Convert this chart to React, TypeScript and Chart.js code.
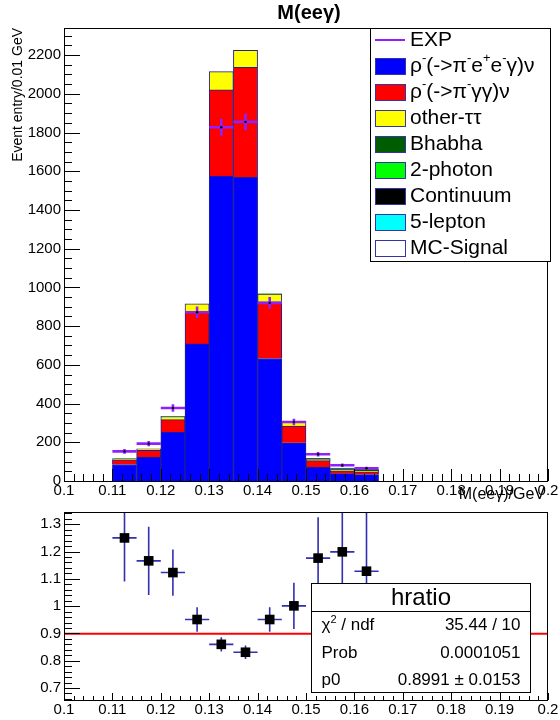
import React, { useEffect, useRef } from "react";
import { Chart, registerables } from "chart.js";

Chart.register(...registerables);

const FONT = '"Liberation Sans", Arial, Helvetica, sans-serif';

// ---------------- data ----------------
const binCenters = [0.1125, 0.1175, 0.1225, 0.1275, 0.1325, 0.1375, 0.1425, 0.1475, 0.1525, 0.1575, 0.1625];
const binHalfWidth = 0.0025;

const rhoEEG = [85, 124, 253, 708, 1575, 1569, 633, 197, 72, 38, 33];
const rhoGG = [25, 35, 64, 167, 445, 568, 293, 87, 33, 14, 14];
const otherTT = [5, 7, 16, 40, 95, 88, 40, 22, 9, 7, 6];
const bhabha = [0, 0, 0, 0, 0, 0, 0, 1, 2, 4, 3];
const twoPhoton = [1, 0, 1, 0, 0, 0, 1, 1, 1, 2, 2];
const continuum = [0, 0, 0, 0, 0, 0, 0, 0, 0, 2, 1];
const fiveLepton = [0, 0, 0, 0, 0, 0, 0, 0, 0, 0, 0];
const mcSignal = [0, 0, 0, 0, 0, 0, 0, 0, 0, 0, 0];

const expData = [153, 193, 377, 872, 1827, 1855, 920, 305, 138, 81, 66];
const expErr = [12, 14, 19, 30, 43, 43, 30, 17, 12, 9, 8];

const ratio = [1.25, 1.166, 1.123, 0.951, 0.86, 0.831, 0.951, 1.001, 1.176, 1.199, 1.128];
const ratioErr = [0.16, 0.125, 0.085, 0.045, 0.026, 0.025, 0.045, 0.085, 0.15, 0.2, 0.25];

const fitP0 = 0.8991;
const fitRange = [0.1, 0.2];

const seriesLabels = [
  "ρ^{-}(->π^{-}e^{+}e^{-}γ)ν",
  "ρ^{-}(->π^{-}γγ)ν",
  "other-ττ",
  "Bhabha",
  "2-photon",
  "Continuum",
  "5-lepton",
  "MC-Signal",
];
const seriesValues = [rhoEEG, rhoGG, otherTT, bhabha, twoPhoton, continuum, fiveLepton, mcSignal];
const seriesColors = ["#0000ff", "#ff0000", "#ffff00", "#005c00", "#00ff00", "#000000", "#00ffff", "#ffffff"];
const expLabel = "EXP";

const xTicks = [0.1, 0.11, 0.12, 0.13, 0.14, 0.15, 0.16, 0.17, 0.18, 0.19, 0.2];
const xTickLabels = ["0.1", "0.11", "0.12", "0.13", "0.14", "0.15", "0.16", "0.17", "0.18", "0.19", "0.2"];
const yTopTicks = [0, 200, 400, 600, 800, 1000, 1200, 1400, 1600, 1800, 2000, 2200];
const yTopLabels = ["0", "200", "400", "600", "800", "1000", "1200", "1400", "1600", "1800", "2000", "2200"];
const yBotTicks = [0.7, 0.8, 0.9, 1.0, 1.1, 1.2, 1.3];
const yBotLabels = ["0.7", "0.8", "0.9", "1", "1.1", "1.2", "1.3"];

const titleText = "M(eeγ)";
const yTitleText = "Event entry/0.01 GeV";
const xTitleText = "M(eeγ)/GeV";

const statsTitle = "hratio";
const statsLabels = ["χ^{2} / ndf", "Prob", "p0"];
const statsValues = ["35.44 / 10", "0.0001051", "0.8991 ± 0.0153"];

// ---------------- styles ----------------
const EXP_COLOR = "#9020ff";
const HIST_LINE = "#202090";
const RATIO_ERR = "#3030b0";

// ---------------- helpers ----------------
type Seg = { t: string; sup: boolean };
function parseRich(s: string): Seg[] {
  const segs: Seg[] = [];
  let i = 0;
  while (i < s.length) {
    const k = s.indexOf("^{", i);
    if (k < 0) {
      segs.push({ t: s.slice(i), sup: false });
      break;
    }
    if (k > i) segs.push({ t: s.slice(i, k), sup: false });
    const e = s.indexOf("}", k);
    segs.push({ t: s.slice(k + 2, e), sup: true });
    i = e + 1;
  }
  return segs;
}

function drawRich(ctx: CanvasRenderingContext2D, s: string, x: number, y: number, size: number, align: "left" | "right" | "center" = "left", weight = "") {
  const segs = parseRich(s);
  const fN = `${weight} ${size}px ${FONT}`;
  const fS = `${weight} ${Math.round(size * 0.62)}px ${FONT}`;
  let total = 0;
  const widths = segs.map((sg) => {
    ctx.font = sg.sup ? fS : fN;
    const w = ctx.measureText(sg.t).width;
    total += w;
    return w;
  });
  let cx = align === "left" ? x : align === "right" ? x - total : x - total / 2;
  ctx.textAlign = "left";
  ctx.textBaseline = "middle";
  segs.forEach((sg, i) => {
    ctx.font = sg.sup ? fS : fN;
    ctx.fillText(sg.t, cx, sg.sup ? y - size * 0.35 : y);
    cx += widths[i];
  });
}

function tickFrame(opts: any) {
  return {
    id: "rootFrame",
    afterDatasetsDraw(chart: any) {
      const { ctx, chartArea: a, scales } = chart;
      const xs = scales.x;
      const ys = scales.y;
      ctx.save();
      ctx.strokeStyle = "#000";
      ctx.lineWidth = 1;
      ctx.beginPath();
      const xStart = Math.ceil(xs.min / opts.xMinor - 1e-6);
      const xEnd = Math.floor(xs.max / opts.xMinor + 1e-6);
      for (let i = xStart; i <= xEnd; i++) {
        const v = i * opts.xMinor;
        const r = v / opts.xMajor;
        const major = Math.abs(r - Math.round(r)) < 1e-6;
        const px = Math.round(xs.getPixelForValue(v)) + 0.5;
        ctx.moveTo(px, a.bottom);
        ctx.lineTo(px, a.bottom - (major ? opts.xMajorLen : opts.xMinorLen));
      }
      const yStart = Math.ceil(ys.min / opts.yMinor - 1e-6);
      const yEnd = Math.floor(ys.max / opts.yMinor + 1e-6);
      for (let i = yStart; i <= yEnd; i++) {
        const v = i * opts.yMinor;
        const r = v / opts.yMajor;
        const major = Math.abs(r - Math.round(r)) < 1e-6;
        const py = Math.round(ys.getPixelForValue(v)) + 0.5;
        ctx.moveTo(a.left, py);
        ctx.lineTo(a.left + (major ? opts.yMajorLen : opts.yMinorLen), py);
      }
      ctx.stroke();
      ctx.strokeRect(Math.round(a.left) + 0.5, Math.round(a.top) + 0.5, Math.round(a.width) - 1, Math.round(a.height));
      ctx.restore();
    },
  };
}

const expErrorPlugin = {
  id: "expErrors",
  beforeDatasetDraw(chart: any, args: any) {
    if (chart.data.datasets[args.index].label !== expLabel) return;
    const { ctx, scales } = chart;
    const x = scales.x;
    const y = scales.y;
    ctx.save();
    ctx.strokeStyle = EXP_COLOR;
    ctx.lineWidth = 2.6;
    ctx.beginPath();
    binCenters.forEach((c, i) => {
      const px = x.getPixelForValue(c);
      const py = y.getPixelForValue(expData[i]);
      ctx.moveTo(x.getPixelForValue(c - binHalfWidth), py);
      ctx.lineTo(x.getPixelForValue(c + binHalfWidth), py);
      ctx.moveTo(px, y.getPixelForValue(expData[i] + expErr[i]));
      ctx.lineTo(px, y.getPixelForValue(expData[i] - expErr[i]));
    });
    ctx.stroke();
    ctx.restore();
  },
};

const topDecor = {
  id: "topDecor",
  afterDraw(chart: any) {
    const { ctx, chartArea: a } = chart;
    ctx.save();
    ctx.fillStyle = "#000";
    // title
    ctx.font = `bold 20px ${FONT}`;
    ctx.textAlign = "center";
    ctx.textBaseline = "middle";
    ctx.fillText(titleText, 309, 13);
    // y title
    ctx.save();
    ctx.translate(18, a.top);
    ctx.rotate(-Math.PI / 2);
    ctx.font = `14px ${FONT}`;
    ctx.textAlign = "right";
    ctx.textBaseline = "middle";
    ctx.fillText(yTitleText, 0, 0);
    ctx.restore();
    // x title
    ctx.font = `16px ${FONT}`;
    ctx.textAlign = "right";
    ctx.textBaseline = "alphabetic";
    ctx.fillText(xTitleText, 545, 499);

    // legend
    const lx = 370.5, ly = a.top + 0.5, lw = 180, lh = 233;
    ctx.fillStyle = "#fff";
    ctx.fillRect(lx, ly, lw, lh);
    ctx.strokeStyle = "#000";
    ctx.lineWidth = 1;
    ctx.strokeRect(lx, ly, lw, lh);
    const rowH = 26;
    const firstY = 40;
    // EXP entry
    ctx.strokeStyle = EXP_COLOR;
    ctx.lineWidth = 2;
    ctx.beginPath();
    ctx.moveTo(375, firstY);
    ctx.lineTo(405, firstY);
    ctx.stroke();
    ctx.fillStyle = "#000";
    drawRich(ctx, expLabel, 410, firstY, 21);
    seriesLabels.forEach((lab, i) => {
      const cy = firstY + rowH * (i + 1);
      ctx.fillStyle = seriesColors[i];
      ctx.fillRect(375, cy - 8, 31, 17);
      ctx.strokeStyle = "#3434a8";
      ctx.lineWidth = 1;
      ctx.strokeRect(375.5, cy - 7.5, 30, 16);
      ctx.fillStyle = "#000";
      drawRich(ctx, lab, 410, cy, 21);
    });
    ctx.restore();
  },
};

const ratioErrorPlugin = {
  id: "ratioErrors",
  beforeDatasetDraw(chart: any, args: any) {
    if (chart.data.datasets[args.index].label !== "ratio") return;
    const { ctx, scales, chartArea: a } = chart;
    const x = scales.x;
    const y = scales.y;
    ctx.save();
    ctx.beginPath();
    ctx.rect(a.left, a.top, a.width, a.height);
    ctx.clip();
    ctx.strokeStyle = RATIO_ERR;
    ctx.lineWidth = 1.6;
    ctx.beginPath();
    binCenters.forEach((c, i) => {
      const px = x.getPixelForValue(c);
      const py = y.getPixelForValue(ratio[i]);
      ctx.moveTo(x.getPixelForValue(c - binHalfWidth), py);
      ctx.lineTo(x.getPixelForValue(c + binHalfWidth), py);
      ctx.moveTo(px, y.getPixelForValue(ratio[i] + ratioErr[i]));
      ctx.lineTo(px, y.getPixelForValue(ratio[i] - ratioErr[i]));
    });
    ctx.stroke();
    ctx.restore();
  },
};

const statsPlugin = {
  id: "statsBox",
  afterDraw(chart: any) {
    const { ctx } = chart;
    const bx = 311.5, by = 83.5, bw = 219, bh = 109, th = 28;
    ctx.save();
    ctx.fillStyle = "#fff";
    ctx.fillRect(bx, by, bw, bh);
    ctx.strokeStyle = "#000";
    ctx.lineWidth = 1;
    ctx.strokeRect(bx, by, bw, bh);
    ctx.beginPath();
    ctx.moveTo(bx, by + th);
    ctx.lineTo(bx + bw, by + th);
    ctx.stroke();
    ctx.fillStyle = "#000";
    drawRich(ctx, statsTitle, bx + bw / 2, by + th / 2 + 1, 24, "center");
    statsLabels.forEach((lab, i) => {
      const cy = by + th + 14 + i * 27.5;
      drawRich(ctx, lab, bx + 10, cy, 17, "left");
      drawRich(ctx, statsValues[i], bx + bw - 10, cy, 17, "right");
    });
    ctx.restore();
  },
};

export default function App() {
  const topRef = useRef<HTMLCanvasElement | null>(null);
  const botRef = useRef<HTMLCanvasElement | null>(null);

  useEffect(() => {
    Chart.defaults.font.family = FONT;
    Chart.defaults.color = "#000";

    const stackSets: any[] = seriesLabels.map((lab, k) => ({
      type: "bar",
      label: lab,
      data: binCenters.map((x, i) => ({ x, y: seriesValues[k][i] })),
      backgroundColor: seriesColors[k],
      borderColor: HIST_LINE,
      borderWidth: 1,
      barPercentage: 1,
      categoryPercentage: 1,
      stack: "mc",
      order: 1,
    }));

    const top = new Chart(topRef.current as HTMLCanvasElement, {
      type: "bar",
      data: {
        datasets: [
          ...stackSets,
          {
            type: "line",
            label: expLabel,
            data: binCenters.map((x, i) => ({ x, y: expData[i] })),
            showLine: false,
            pointRadius: 1.2,
            pointBackgroundColor: "#000",
            pointBorderWidth: 0,
            stack: "exp",
            order: 0,
          } as any,
        ],
      },
      options: {
        animation: false,
        responsive: false,
        maintainAspectRatio: false,
        layout: { padding: { top: 28, right: 12, left: 0, bottom: 0 } },
        plugins: { legend: { display: false }, tooltip: { enabled: false }, title: { display: false } },
        scales: {
          x: {
            type: "linear",
            min: 0.1,
            max: 0.2,
            stacked: true,
            offset: false,
            grid: { display: false, drawTicks: false },
            border: { display: false },
            afterBuildTicks: (s: any) => {
              s.ticks = xTicks.map((v) => ({ value: v }));
            },
            ticks: {
              callback: (_v: any, i: number) => xTickLabels[i],
              maxRotation: 0,
              autoSkip: false,
              padding: 1,
              font: { size: 15 },
            },
            afterFit: (s: any) => {
              s.height = 24;
            },
          },
          y: {
            type: "linear",
            min: 0,
            max: 2340,
            stacked: true,
            grid: { display: false, drawTicks: false },
            border: { display: false },
            afterBuildTicks: (s: any) => {
              s.ticks = yTopTicks.map((v) => ({ value: v }));
            },
            ticks: {
              callback: (_v: any, i: number) => yTopLabels[i],
              padding: 3,
              font: { size: 15 },
            },
            afterFit: (s: any) => {
              s.width = 64;
            },
          },
        },
      } as any,
      plugins: [
        expErrorPlugin,
        tickFrame({ xMinor: 0.002, xMajor: 0.01, xMajorLen: 12, xMinorLen: 7, yMinor: 50, yMajor: 200, yMajorLen: 16, yMinorLen: 8 }),
        topDecor,
      ] as any,
    });

    const bot = new Chart(botRef.current as HTMLCanvasElement, {
      type: "scatter",
      data: {
        datasets: [
          {
            type: "line",
            label: "fit",
            data: fitRange.map((x) => ({ x, y: fitP0 })),
            borderColor: "#ff0000",
            borderWidth: 2,
            pointRadius: 0,
            order: 1,
          } as any,
          {
            type: "scatter",
            label: "ratio",
            data: binCenters.map((x, i) => ({ x, y: ratio[i] })),
            pointStyle: "rect",
            pointRadius: 6.8,
            backgroundColor: "#000",
            borderColor: "#000",
            borderWidth: 0,
            order: 0,
          } as any,
        ],
      },
      options: {
        animation: false,
        responsive: false,
        maintainAspectRatio: false,
        layout: { padding: { top: 6, right: 12, left: 0, bottom: 0 } },
        plugins: { legend: { display: false }, tooltip: { enabled: false }, title: { display: false } },
        scales: {
          x: {
            type: "linear",
            min: 0.1,
            max: 0.2,
            grid: { display: false, drawTicks: false },
            border: { display: false },
            afterBuildTicks: (s: any) => {
              s.ticks = xTicks.map((v) => ({ value: v }));
            },
            ticks: {
              callback: (_v: any, i: number) => xTickLabels[i],
              maxRotation: 0,
              autoSkip: false,
              padding: 1,
              font: { size: 15 },
            },
            afterFit: (s: any) => {
              s.height = 20;
            },
          },
          y: {
            type: "linear",
            min: 0.656,
            max: 1.345,
            grid: { display: false, drawTicks: false },
            border: { display: false },
            afterBuildTicks: (s: any) => {
              s.ticks = yBotTicks.map((v) => ({ value: v }));
            },
            ticks: {
              callback: (_v: any, i: number) => yBotLabels[i],
              padding: 3,
              font: { size: 15 },
            },
            afterFit: (s: any) => {
              s.width = 64;
            },
          },
        },
      } as any,
      plugins: [
        ratioErrorPlugin,
        tickFrame({ xMinor: 0.002, xMajor: 0.01, xMajorLen: 7, xMinorLen: 4, yMinor: 0.02, yMajor: 0.1, yMajorLen: 16, yMinorLen: 8 }),
        statsPlugin,
      ] as any,
    });

    return () => {
      top.destroy();
      bot.destroy();
    };
  }, []);

  return (
    <div style={{ position: "absolute", left: 0, top: 0, width: 560, height: 720, background: "#fff" }}>
      <canvas ref={topRef} width={560} height={505} style={{ position: "absolute", left: 0, top: 0, width: 560, height: 505 }} />
      <canvas ref={botRef} width={560} height={220} style={{ position: "absolute", left: 0, top: 500, width: 560, height: 220 }} />
    </div>
  );
}
